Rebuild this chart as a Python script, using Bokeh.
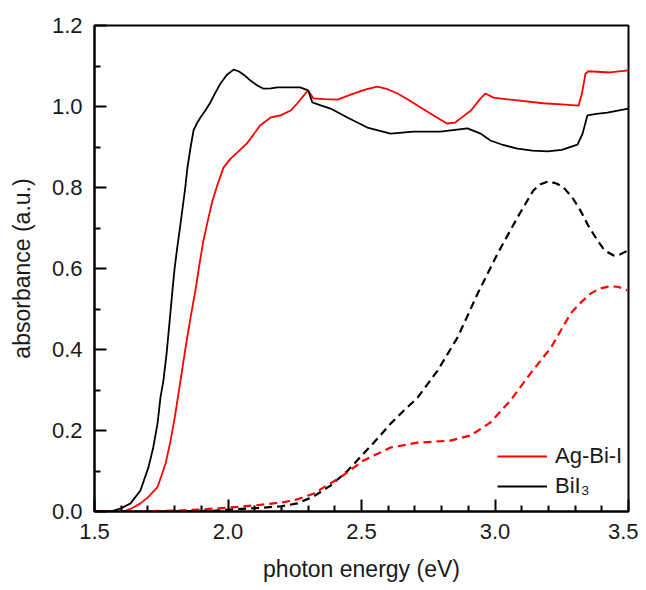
from bokeh.plotting import figure
from bokeh.models import (Legend, LegendItem, FixedTicker, NumeralTickFormatter, Range1d)
from bokeh.embed import file_html
from bokeh.resources import INLINE

# --- data ---
x_ticks = [1.5, 2.0, 2.5, 3.0, 3.5]
x_minor = [1.6, 1.7, 1.8, 1.9, 2.1, 2.2, 2.3, 2.4, 2.6, 2.7, 2.8, 2.9, 3.1, 3.2, 3.3, 3.4]
y_ticks = [0.0, 0.2, 0.4, 0.6, 0.8, 1.0, 1.2]
y_minor = [0.1, 0.3, 0.5, 0.7, 0.9, 1.1]

bii3_x = [1.50, 1.56, 1.60, 1.635, 1.672, 1.702, 1.72, 1.736, 1.747, 1.758, 1.77, 1.78, 1.792,
          1.80, 1.81, 1.82, 1.83, 1.84, 1.848, 1.86, 1.871, 1.883, 1.897, 1.915, 1.934, 1.952,
          1.972, 1.995, 2.021, 2.04, 2.06, 2.084, 2.11, 2.133, 2.16, 2.185, 2.223, 2.27, 2.30,
          2.316, 2.35, 2.384, 2.447, 2.522, 2.609, 2.695, 2.796, 2.897, 2.946, 2.983, 3.03, 3.084,
          3.14, 3.197, 3.25, 3.309, 3.328, 3.346, 3.38, 3.421, 3.46, 3.50]
bii3_y = [0.0, 0.0, 0.008, 0.02, 0.052, 0.109, 0.158, 0.217, 0.281, 0.323, 0.39, 0.46, 0.546,
          0.60, 0.652, 0.70, 0.75, 0.80, 0.849, 0.90, 0.941, 0.958, 0.973, 0.99, 1.01, 1.033,
          1.057, 1.078, 1.091, 1.087, 1.078, 1.064, 1.052, 1.044, 1.045, 1.047, 1.047, 1.047, 1.04,
          1.01, 1.002, 0.995, 0.973, 0.948, 0.933, 0.938, 0.938, 0.946, 0.933, 0.916, 0.905, 0.896,
          0.891, 0.889, 0.893, 0.906, 0.933, 0.978, 0.982, 0.985, 0.99, 0.995]

agbii_x = [1.50, 1.61, 1.64, 1.672, 1.70, 1.736, 1.766, 1.785, 1.803, 1.822, 1.84, 1.86, 1.878,
           1.893, 1.908, 1.925, 1.942, 1.962, 1.983, 2.008, 2.034, 2.071, 2.095, 2.12, 2.16, 2.197,
           2.235, 2.26, 2.285, 2.30, 2.32, 2.36, 2.41, 2.47, 2.52, 2.56, 2.60, 2.635, 2.68, 2.72,
           2.77, 2.82, 2.85, 2.87, 2.91, 2.946, 2.964, 2.994, 3.04, 3.084, 3.18, 3.25, 3.313,
           3.325, 3.339, 3.35, 3.43, 3.50]
agbii_y = [0.0, 0.0, 0.008, 0.02, 0.035, 0.06, 0.118, 0.175, 0.242, 0.323, 0.40, 0.48, 0.546,
           0.61, 0.669, 0.72, 0.768, 0.81, 0.849, 0.87, 0.886, 0.909, 0.93, 0.953, 0.973, 0.978,
           0.99, 1.008, 1.028, 1.04, 1.02, 1.018, 1.017, 1.032, 1.043, 1.049, 1.042, 1.032, 1.015,
           0.998, 0.978, 0.958, 0.96, 0.97, 0.99, 1.02, 1.032, 1.022, 1.018, 1.015, 1.008, 1.005,
           1.002, 1.03, 1.081, 1.087, 1.084, 1.089]

bii3_d_x = [1.60, 1.80, 1.95, 2.009, 2.10, 2.20, 2.26, 2.32, 2.384, 2.447, 2.508, 2.56, 2.609,
            2.66, 2.71, 2.785, 2.86, 2.935, 3.01, 3.084, 3.144, 3.17, 3.20, 3.23, 3.257, 3.29,
            3.32, 3.35, 3.384, 3.41, 3.444, 3.47, 3.496]
bii3_d_y = [0.0, 0.0, 0.002, 0.005, 0.008, 0.013, 0.02, 0.037, 0.064, 0.1, 0.143, 0.18, 0.217,
            0.25, 0.281, 0.348, 0.43, 0.538, 0.637, 0.726, 0.793, 0.808, 0.815, 0.81, 0.80, 0.775,
            0.743, 0.705, 0.669, 0.645, 0.632, 0.635, 0.644]

agbii_d_x = [1.62, 1.80, 1.90, 2.009, 2.10, 2.197, 2.25, 2.32, 2.42, 2.508, 2.609, 2.71, 2.833,
             2.91, 2.983, 3.058, 3.133, 3.21, 3.283, 3.32, 3.358, 3.39, 3.43, 3.46, 3.496]
agbii_d_y = [0.0, 0.002, 0.005, 0.01, 0.015, 0.022, 0.028, 0.044, 0.084, 0.126, 0.158, 0.17,
             0.175, 0.188, 0.22, 0.274, 0.341, 0.405, 0.489, 0.515, 0.538, 0.55, 0.556, 0.555, 0.546]

FONT = "Liberation Sans"

p = figure(width=638, height=588, output_backend="svg", toolbar_location=None,
           x_range=Range1d(1.5, 3.5), y_range=Range1d(0, 1.2),
           min_border_left=94, min_border_right=10, min_border_top=25, min_border_bottom=77)
p.background_fill_color = "white"
p.border_fill_color = "white"
p.outline_line_color = "black"
p.outline_line_width = 2
p.xgrid.visible = False
p.ygrid.visible = False

r_ag = p.line(agbii_x, agbii_y, line_color="#ff0000", line_width=1.8)
r_bi = p.line(bii3_x, bii3_y, line_color="black", line_width=1.8)
p.line(bii3_d_x, bii3_d_y, line_color="black", line_width=2.2, line_dash="8 5")
p.line(agbii_d_x, agbii_d_y, line_color="#ff0000", line_width=2.2, line_dash="8 5")

for ax in (p.xaxis[0], p.yaxis[0]):
    ax.axis_line_width = 2
    ax.axis_line_color = "black"
    ax.major_tick_in = 12
    ax.major_tick_out = 0
    ax.minor_tick_in = 6
    ax.minor_tick_out = 0
    ax.major_tick_line_width = 2
    ax.minor_tick_line_width = 2
    ax.major_tick_line_color = "black"
    ax.minor_tick_line_color = "black"
    ax.major_label_text_font = FONT
    ax.major_label_text_font_size = "22px"
    ax.major_label_text_color = "#1a1a1a"
    ax.axis_label_text_font = FONT
    ax.axis_label_text_font_size = "23px"
    ax.axis_label_text_font_style = "normal"
    ax.axis_label_text_color = "#1a1a1a"
    ax.major_label_standoff = 12
    ax.formatter = NumeralTickFormatter(format="0.0")

p.xaxis[0].ticker = FixedTicker(ticks=x_ticks, minor_ticks=x_minor)
p.yaxis[0].ticker = FixedTicker(ticks=y_ticks, minor_ticks=y_minor)
p.xaxis[0].axis_label = "photon energy (eV)"
p.yaxis[0].axis_label = "absorbance (a.u.)"
p.xaxis[0].axis_label_standoff = 14
p.yaxis[0].axis_label_standoff = 14

legend = Legend(items=[LegendItem(label="Ag-Bi-I", renderers=[r_ag]),
                       LegendItem(label="BiI\u2083", renderers=[r_bi])],
                location=(403, 12), orientation="vertical")
legend.border_line_color = None
legend.background_fill_alpha = 0
legend.padding = 0
legend.margin = 0
legend.spacing = 4
legend.glyph_width = 50
legend.glyph_height = 22
legend.label_height = 22
legend.label_standoff = 8
legend.label_text_font = FONT
legend.label_text_font_size = "22px"
legend.label_text_color = "#1a1a1a"
p.add_layout(legend, "center")

open("out.html", "w").write(file_html(p, INLINE))
